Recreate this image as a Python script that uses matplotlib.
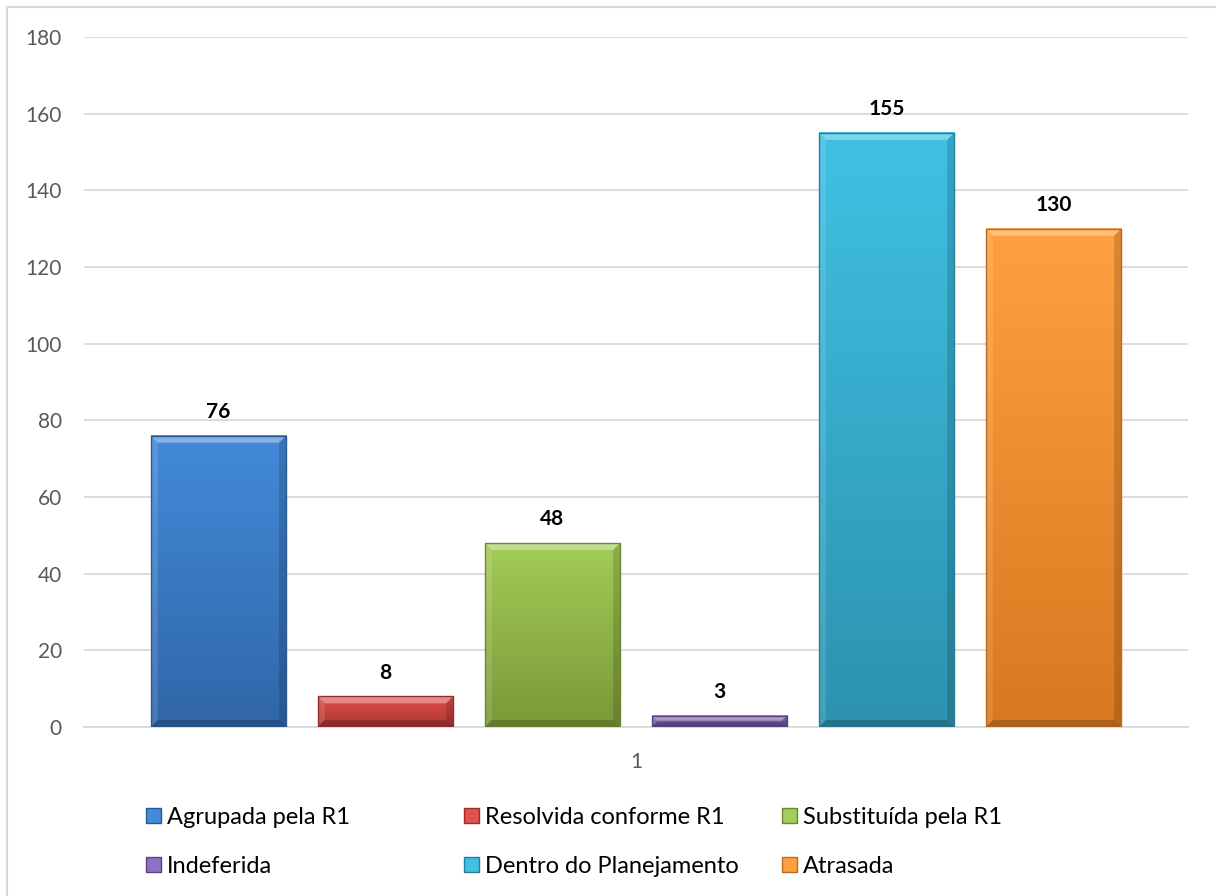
import numpy as np
import matplotlib.pyplot as plt
from matplotlib.colors import LinearSegmentedColormap
from matplotlib.patches import Rectangle, Polygon

series = ['Agrupada pela R1', 'Resolvida conforme R1', 'Substituída pela R1',
          'Indeferida', 'Dentro do Planejamento', 'Atrasada']
values = [76, 8, 48, 3, 155, 130]
category = '1'
top_colors = ['#438ad9', '#e0504c', '#a3cc58', '#9070c0', '#40c1e4', '#ffa040']
bottom_colors = ['#3066a8', '#ad3431', '#7a9838', '#674b90', '#2c92ae', '#d9781f']
edge_colors = ['#2a5a94', '#9a2d2a', '#6b8730', '#5a4380', '#267f99', '#bf6a1b']

plt.rcParams['font.family'] = ['Lato', 'DejaVu Sans']

W, H = 1216, 896
fig = plt.figure(figsize=(W / 100, H / 100), dpi=100)
ax = fig.add_axes([84 / W, 1 - 727 / H, 1104 / W, 690 / H])

# chart border (runs off the right/bottom edge like the source)
fig.patches.append(Rectangle((7 / W, -0.05), 1.2, 1 - 7 / H + 0.05,
                             transform=fig.transFigure, fill=False,
                             edgecolor='#d9d9d9', linewidth=1.5, zorder=0))

n = len(values)
x = np.arange(n) - (n - 1) / 2
width = 0.81
bars = ax.bar(x, values, width=width, color='none', edgecolor='none', zorder=3)

grad = np.linspace(0, 1, 256).reshape(-1, 1)
bx = 7 / 167.0      # bevel size in x data units (~7px)
for i, b in enumerate(bars):
    x0, w, h = b.get_x(), b.get_width(), b.get_height()
    x1 = x0 + w
    cmap = LinearSegmentedColormap.from_list('g%d' % i, [bottom_colors[i], top_colors[i]])
    ax.imshow(grad, cmap=cmap, origin='lower', aspect='auto',
              extent=(x0, x1, 0, h), zorder=3)
    by = min(7 / 3.833, h * 0.45)
    bxx = bx * by / (7 / 3.833)
    # bevel faces
    ax.add_patch(Polygon([(x0, h), (x1, h), (x1 - bxx, h - by), (x0 + bxx, h - by)],
                         closed=True, facecolor='white', alpha=0.35, lw=0, zorder=4))
    ax.add_patch(Polygon([(x0, 0), (x0, h), (x0 + bxx, h - by), (x0 + bxx, by)],
                         closed=True, facecolor='white', alpha=0.12, lw=0, zorder=4))
    ax.add_patch(Polygon([(x1, 0), (x1, h), (x1 - bxx, h - by), (x1 - bxx, by)],
                         closed=True, facecolor='black', alpha=0.15, lw=0, zorder=4))
    ax.add_patch(Polygon([(x0, 0), (x1, 0), (x1 - bxx, by), (x0 + bxx, by)],
                         closed=True, facecolor='black', alpha=0.2, lw=0, zorder=4))
    ax.add_patch(Rectangle((x0, 0), w, h, fill=False, edgecolor=edge_colors[i],
                           linewidth=1.0, zorder=5))
    ax.annotate(str(values[i]), (x0 + w / 2, h), xytext=(0, 17),
                textcoords='offset points', ha='center', va='center',
                fontsize=15, fontweight='bold', color='black', zorder=6)

ax.set_xlim(-3.305, 3.305)
ax.set_ylim(0, 180)
ax.set_yticks(np.arange(0, 181, 20))
ax.tick_params(axis='y', length=0, pad=16, labelsize=15, labelcolor='#595959')
ax.set_xticks([0])
ax.set_xticklabels([category])
ax.tick_params(axis='x', length=0, pad=18, labelsize=15, labelcolor='#595959')
ax.grid(axis='y', color='#d9d9d9', linewidth=1.3, zorder=0)
for s in ['top', 'right', 'left']:
    ax.spines[s].set_visible(False)
ax.spines['bottom'].set_color('#d9d9d9')
ax.spines['bottom'].set_linewidth(1.3)
ax.set_axisbelow(True)

# legend, row by row (3 per row)
col_x = [146, 464, 782]
row_y = [815, 864]
for i, name in enumerate(series):
    cx = col_x[i % 3]
    cy = row_y[i // 3]
    fig.patches.append(Rectangle((cx / W, 1 - (cy + 7.5) / H), 15 / W, 15 / H,
                                 transform=fig.transFigure, facecolor=top_colors[i],
                                 edgecolor=edge_colors[i], linewidth=1.0))
    fig.text((cx + 21) / W, 1 - cy / H, name, ha='left', va='center_baseline',
             fontsize=17, color='black')

fig.savefig('out.png', dpi=100)
